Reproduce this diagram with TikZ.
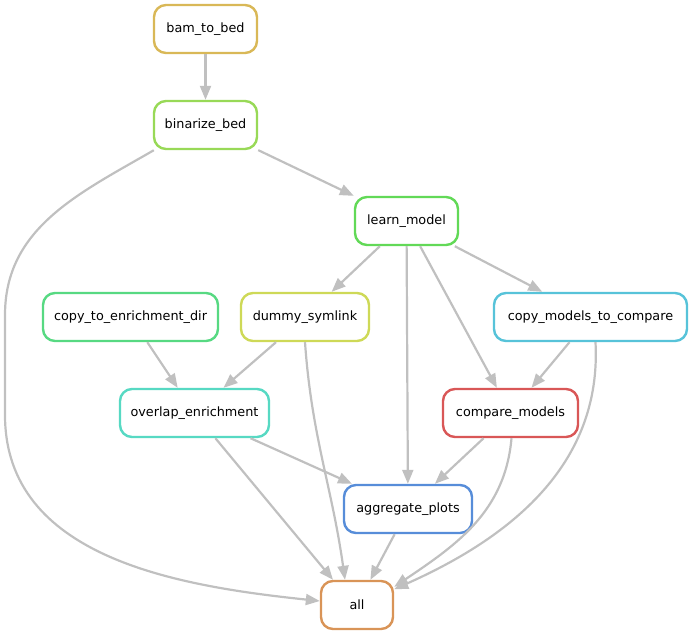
\documentclass[tikz,border=0pt]{standalone}
\usepackage{fontspec}
\setmainfont{DejaVu Sans}
\usetikzlibrary{arrows.meta}
\definecolor{cbam}{HTML}{D9B857}
\definecolor{cbin}{HTML}{98D957}
\definecolor{clearn}{HTML}{62D957}
\definecolor{ccte}{HTML}{57D982}
\definecolor{cdummy}{HTML}{CED957}
\definecolor{ccmc}{HTML}{57C3D9}
\definecolor{coverlap}{HTML}{57D9C3}
\definecolor{ccompare}{HTML}{D95757}
\definecolor{cagg}{HTML}{578DD9}
\definecolor{call}{HTML}{D99457}
\definecolor{edgegray}{HTML}{C0C0C0}
\tikzset{
  rule/.style={draw=#1, line width=2.4pt, rounded corners=12pt, fill=white,
    minimum height=48pt, inner sep=0pt, font=\fontsize{12.8}{15}\selectfont},
  edge/.style={draw=edgegray, line width=2.2pt,
    -{Triangle[length=14pt,width=11pt,fill=edgegray]}}
}
\begin{document}
\begin{tikzpicture}[x=1pt,y=1pt]
\useasboundingbox (0,0) rectangle (692,-635);
\node[rule=cbam, minimum width=103pt] (bam) at (205.5,-29) {bam\_to\_bed};
\node[rule=cbin, minimum width=103pt] (bin) at (205.5,-125) {binarize\_bed};
\node[rule=clearn, minimum width=103pt] (learn) at (406.5,-221) {learn\_model};
\node[rule=ccte, minimum width=175pt] (cte) at (130.5,-317) {copy\_to\_enrichment\_dir};
\node[rule=cdummy, minimum width=128pt] (dummy) at (305,-317) {dummy\_symlink};
\node[rule=ccmc, minimum width=193pt] (cmc) at (590.5,-317) {copy\_models\_to\_compare};
\node[rule=coverlap, minimum width=149pt] (overlap) at (194.5,-413) {overlap\_enrichment};
\node[rule=ccompare, minimum width=135pt] (compare) at (510.5,-413) {compare\_models};
\node[rule=cagg, minimum width=128pt] (agg) at (408,-509) {aggregate\_plots};
\node[rule=call, minimum width=72pt] (all) at (357,-605) {all};
\coordinate (lw1) at (5,-315);
\coordinate (lw2) at (5,-415);
% edges
\draw[edge] (bam) -- (bin);
\draw[edge] (bin) -- (learn);
\draw[edge] (bin.-154) to[out=-150,in=90] (lw1) -- (lw2) to[out=-90,in=174] ([yshift=4pt]all.west);
\draw[edge] (learn) -- (dummy);
\draw[edge] (learn) -- (cmc);
\draw[edge] (learn) -- (compare);
\draw[edge] (learn) -- (agg);
\draw[edge] (cte) -- (overlap);
\draw[edge] (dummy) -- (overlap);
\draw[edge] (dummy.south) to[out=-86,in=98] ([xshift=-12pt]all.north);
\draw[edge] (cmc) -- (compare);
\draw[edge] ([xshift=5pt]cmc.south) to[out=-87,in=24] (all.23);
\draw[edge] (overlap) -- (agg);
\draw[edge] (overlap) -- ([xshift=-24pt]all.north);
\draw[edge] (compare) -- (agg);
\draw[edge] ([xshift=1pt]compare.south) to[out=-95,in=34] (all.26);
\draw[edge] (agg) -- (all);
\end{tikzpicture}
\end{document}
